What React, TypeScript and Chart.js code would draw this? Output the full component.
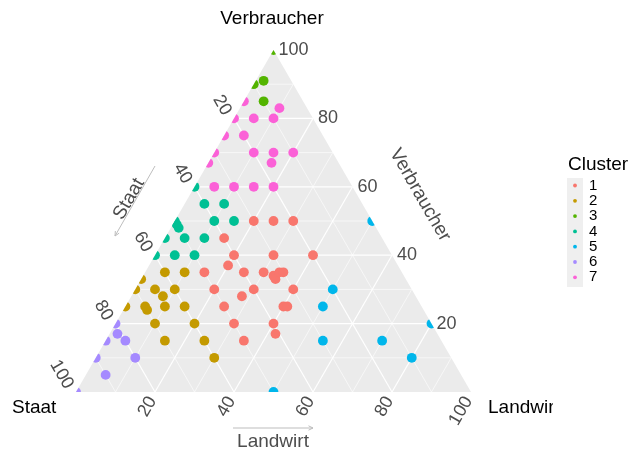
import { useEffect, useRef } from 'react';
import { Chart, registerables } from 'chart.js';

Chart.register(...registerables);

// Axis names (vertices) and ticks
const AXIS_TOP = 'Verbraucher';
const AXIS_LEFT = 'Staat';
const AXIS_RIGHT = 'Landwirt';
const TICKS = [20, 40, 60, 80, 100];
const GRID = [10, 20, 30, 40, 50, 60, 70, 80, 90];
const LEGEND_TITLE = 'Cluster';
const CLUSTER_NAMES = ['1', '2', '3', '4', '5', '6', '7'];
const CLUSTER_COLORS = ['#F8766D', '#C49A00', '#53B400', '#00C094', '#00B6EB', '#A58AFF', '#FB61D7'];

// Each point: [Landwirt %, Verbraucher %]  (Staat % = 100 - both)
const cluster1 = [
  [20, 50], [25, 50], [30, 50], [15, 45], [20, 40], [30, 40], [40, 40], [20, 37],
  [15, 35], [25, 35], [30, 35], [33, 34], [34, 33], [34, 35], [35, 35], [20, 30],
  [30, 30], [40, 30], [28, 28], [25, 25], [40, 25], [41, 25], [30, 20], [40, 20],
  [42, 17], [35, 15],
];
const cluster2 = [
  [5, 35], [10, 35], [0, 33], [0, 30], [5, 30], [10, 30], [8, 28], [0, 25], [5, 25],
  [6, 24], [10, 25], [15, 25], [10, 20], [20, 20], [15, 15], [25, 15], [30, 10],
];
const cluster3 = [[0, 100], [0, 90], [2, 91], [5, 85]];
const cluster4 = [
  [0, 60], [5, 55], [10, 55], [0, 50], [1, 49], [2, 48], [10, 50], [15, 50],
  [0, 45], [5, 45], [10, 45], [0, 40], [5, 40], [10, 40],
];
const cluster5 = [[50, 50], [50, 30], [50, 25], [80, 20], [55, 15], [70, 15], [80, 10], [50, 0]];
const cluster6 = [[0, 0], [5, 5], [0, 10], [10, 10], [0, 15], [5, 15], [0, 20], [2, 17]];
const cluster7 = [
  [0, 85], [10, 83], [0, 80], [5, 80], [10, 80], [0, 75], [5, 75], [0, 70], [10, 70],
  [15, 70], [20, 70], [0, 67], [16, 67], [5, 60], [10, 60], [15, 60], [20, 60],
];
const CLUSTERS = [cluster1, cluster2, cluster3, cluster4, cluster5, cluster6, cluster7];

const FONT = '"Liberation Sans", Arial, sans-serif';
const GREY = '#4D4D4D';

function toXY(p: number[]) {
  return { x: p[0] + p[1] / 2, y: p[1] };
}

function drawText(
  ctx: CanvasRenderingContext2D,
  s: string,
  x: number,
  y: number,
  rot: number,
  align: CanvasTextAlign,
  size: number,
  color: string,
) {
  ctx.save();
  ctx.translate(x, y);
  ctx.rotate(rot);
  ctx.font = `${size}px ${FONT}`;
  ctx.fillStyle = color;
  ctx.textAlign = align;
  ctx.textBaseline = 'middle';
  ctx.fillText(s, 0, 0);
  ctx.restore();
}

function arrow(ctx: CanvasRenderingContext2D, x1: number, y1: number, x2: number, y2: number) {
  ctx.save();
  ctx.strokeStyle = '#BDBDBD';
  ctx.lineWidth = 1;
  ctx.beginPath();
  ctx.moveTo(x1, y1);
  ctx.lineTo(x2, y2);
  const a = Math.atan2(y2 - y1, x2 - x1);
  const h = 5;
  ctx.moveTo(x2 - h * Math.cos(a - 0.45), y2 - h * Math.sin(a - 0.45));
  ctx.lineTo(x2, y2);
  ctx.lineTo(x2 - h * Math.cos(a + 0.45), y2 - h * Math.sin(a + 0.45));
  ctx.stroke();
  ctx.restore();
}

const ternaryPlugin = {
  id: 'ternary',
  beforeDatasetsDraw(chart: any) {
    const { ctx } = chart;
    const xs = chart.scales.x;
    const ys = chart.scales.y;
    const P = (l: number, v: number) => [xs.getPixelForValue(l + v / 2), ys.getPixelForValue(v)];
    const A = P(0, 0);
    const B = P(100, 0);
    const C = P(0, 100);
    ctx.save();
    ctx.fillStyle = '#EBEBEB';
    ctx.beginPath();
    ctx.moveTo(A[0], A[1]);
    ctx.lineTo(B[0], B[1]);
    ctx.lineTo(C[0], C[1]);
    ctx.closePath();
    ctx.fill();
    ctx.strokeStyle = '#FFFFFF';
    for (const k of GRID) {
      ctx.lineWidth = k % 20 === 0 ? 1.2 : 0.6;
      const segs = [
        [P(0, k), P(100 - k, k)],
        [P(k, 0), P(k, 100 - k)],
        [P(100 - k, 0), P(0, 100 - k)],
      ];
      for (const [p, q] of segs) {
        ctx.beginPath();
        ctx.moveTo(p[0], p[1]);
        ctx.lineTo(q[0], q[1]);
        ctx.stroke();
      }
    }
    ctx.restore();
    ctx.save();
    ctx.beginPath();
    ctx.moveTo(A[0], A[1]);
    ctx.lineTo(B[0], B[1]);
    ctx.lineTo(C[0], C[1]);
    ctx.closePath();
    ctx.clip();
  },
  afterDatasetsDraw(chart: any) {
    const { ctx } = chart;
    ctx.restore();
    const xs = chart.scales.x;
    const ys = chart.scales.y;
    const P = (l: number, v: number) => [xs.getPixelForValue(l + v / 2), ys.getPixelForValue(v)];

    // tick labels
    for (const t of TICKS) {
      const r = P(100 - t, t);
      drawText(ctx, String(t), r[0] + 5, r[1], 0, 'left', 18, GREY);
      const l = P(0, 100 - t);
      drawText(ctx, String(t), l[0] - 7, l[1] - 4.5, Math.PI / 3, 'right', 18, GREY);
      const b = P(t, 0);
      drawText(ctx, String(t), b[0] - 2.5, b[1] + 6, -Math.PI / 3, 'right', 18, GREY);
    }

    // vertex labels
    drawText(ctx, AXIS_TOP, 272, 19, 0, 'center', 19, '#000000');
    drawText(ctx, AXIS_LEFT, 12, 408, 0, 'left', 19, '#000000');
    ctx.save();
    ctx.beginPath();
    ctx.rect(0, 0, 553, 450);
    ctx.clip();
    drawText(ctx, AXIS_RIGHT, 488, 408, 0, 'left', 19, '#000000');
    ctx.restore();

    // axis titles with arrows
    drawText(ctx, AXIS_LEFT, 129, 199, -Math.PI / 3, 'center', 19, GREY);
    arrow(ctx, 155, 166, 115, 236);
    drawText(ctx, AXIS_TOP, 420, 195, Math.PI / 3, 'center', 19, GREY);
    drawText(ctx, AXIS_RIGHT, 273, 442, 0, 'center', 19, GREY);
    arrow(ctx, 233, 428, 313, 428);

    // legend
    drawText(ctx, LEGEND_TITLE, 568, 165, 0, 'left', 19, '#000000');
    ctx.save();
    ctx.fillStyle = '#EFEFEF';
    ctx.fillRect(567, 178, 16, 109);
    ctx.restore();
    CLUSTER_NAMES.forEach((name, i) => {
      const yy = 185.5 + i * 15.3;
      ctx.save();
      ctx.fillStyle = CLUSTER_COLORS[i];
      ctx.beginPath();
      ctx.arc(575, yy, 1.9, 0, Math.PI * 2);
      ctx.fill();
      ctx.restore();
      drawText(ctx, name, 589, yy, 0, 'left', 15, '#000000');
    });
  },
};

export default function App() {
  const ref = useRef<HTMLCanvasElement>(null);
  useEffect(() => {
    if (!ref.current) return;
    const chart = new Chart(ref.current, {
      type: 'scatter',
      data: {
        datasets: CLUSTERS.map((c, i) => ({
          label: CLUSTER_NAMES[i],
          data: c.map(toXY),
          backgroundColor: CLUSTER_COLORS[i],
          borderColor: CLUSTER_COLORS[i],
          pointRadius: 4.9,
          pointBorderWidth: 0,
          borderWidth: 0,
        })),
      },
      options: {
        responsive: false,
        maintainAspectRatio: false,
        animation: false,
        devicePixelRatio: 1,
        events: [],
        layout: { padding: { left: 76, right: 161, top: 50, bottom: 58 } },
        scales: {
          x: { type: 'linear', min: 0, max: 100, display: false },
          y: { type: 'linear', min: 0, max: 100, display: false },
        },
        plugins: { legend: { display: false }, tooltip: { enabled: false } },
      },
      plugins: [ternaryPlugin],
    });
    return () => chart.destroy();
  }, []);
  return (
    <div style={{ position: 'absolute', left: 0, top: 0, width: 632, height: 450 }}>
      <canvas ref={ref} width={632} height={450} style={{ display: 'block' }} />
    </div>
  );
}
